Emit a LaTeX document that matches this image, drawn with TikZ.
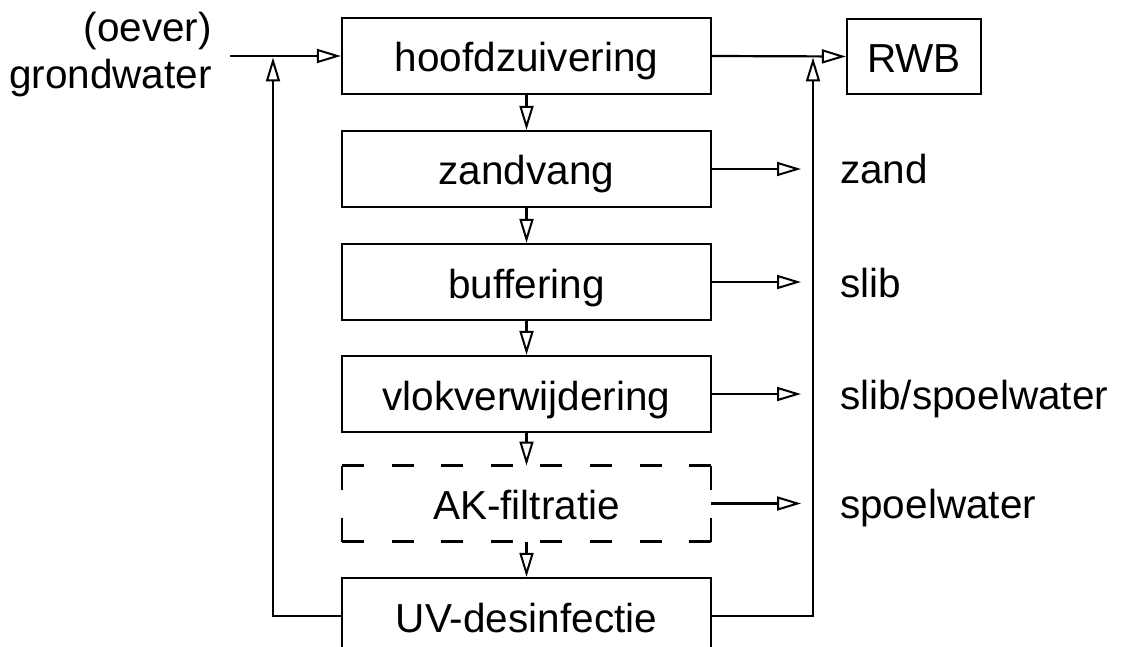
\documentclass[tikz,border=0pt]{standalone}
\usepackage{fontspec}
\setmainfont{Liberation Sans}
\usetikzlibrary{arrows.meta}
\begin{document}
\begin{tikzpicture}[x=1pt,y=-1pt,
  every node/.style={font=\fontsize{40.5}{47}\selectfont},
  proc/.style={draw, line width=2.2pt, minimum width=369pt, minimum height=76pt,
    inner sep=0pt, text height=32pt, text depth=0pt},
  hollow/.style={line width=2.2pt, outer sep=0pt, minimum width=369pt, minimum height=76pt,
    inner sep=0pt, text height=32pt, text depth=0pt},
  dashH/.style={line width=2.2pt, dash pattern=on 22pt off 27.6pt},
  dashV/.style={line width=2.2pt, dash pattern=on 24pt off 28pt},
  flow/.style={line width=2.2pt, -{Triangle[open,length=24pt,width=14pt,line width=2pt]}},
  lbl/.style={anchor=west, inner sep=0pt, text height=30pt, text depth=0pt}]
\useasboundingbox (0,0) rectangle (1121,647);
\clip (0,0) rectangle (1121,647);

% treatment steps
\node[proc] (hz) at (526.5,56) {hoofdzuivering};
\node[proc] (zv) at (526.5,169) {zandvang};
\node[proc] (bf) at (526.5,282) {buffering};
\node[proc] (vv) at (526.5,394) {vlokverwijdering};
\node[hollow] (ak) at (526.5,503.5) {AK-filtratie};
\node[proc] (uv) at (526.5,616) {UV-desinfectie};
\node[draw, line width=2.2pt, minimum width=134pt, minimum height=75pt, inner sep=0pt,
  text height=32pt, text depth=0pt] (rwb) at (914,56.5) {RWB};

% optional step: dashed outline, every side starting and ending with a dash
\draw[dashH] (ak.north west) -- (ak.north east);
\draw[dashH] (ak.south west) -- (ak.south east);
\draw[dashV] (ak.north west) -- (ak.south west);
\draw[dashV] (ak.north east) -- (ak.south east);

% source
\node[align=right, anchor=east, inner sep=0pt] (src) at (212,55) {(oever)\\grondwater};
\coordinate (srcS) at (230,56);

% junctions of the recirculation lines
\coordinate (jl) at (273,57.5);
\coordinate (jr) at (813,57.5);

% main line
\draw[flow] (srcS) -- (hz.west);
\draw[flow] (hz.east) -- (rwb.west);
\draw[flow] (hz) -- (zv);
\draw[flow] (zv) -- (bf);
\draw[flow] (bf) -- (vv);
\draw[flow] (vv) -- (ak);
\draw[flow] (ak) -- (uv);

% recirculation
\draw[flow] (uv.west) -| (jl);
\draw[flow] (uv.east) -| (jr);

% residual streams
\coordinate (ezv) at (801,169);
\coordinate (ebf) at (801,282);
\coordinate (evv) at (801,394);
\coordinate (eak) at (801,503.5);
\draw[flow] (zv.east) -- (ezv);
\draw[flow] (bf.east) -- (ebf);
\draw[flow] (vv.east) -- (evv);
\draw[flow] (ak.east) -- (eak);
\node[lbl] (lzv) at (840,169) {zand};
\node[lbl] (lbf) at (840,282) {slib};
\node[lbl] (lvv) at (840,394) {slib/spoelwater};
\node[lbl] (lak) at (840,503.5) {spoelwater};
\end{tikzpicture}
\end{document}
